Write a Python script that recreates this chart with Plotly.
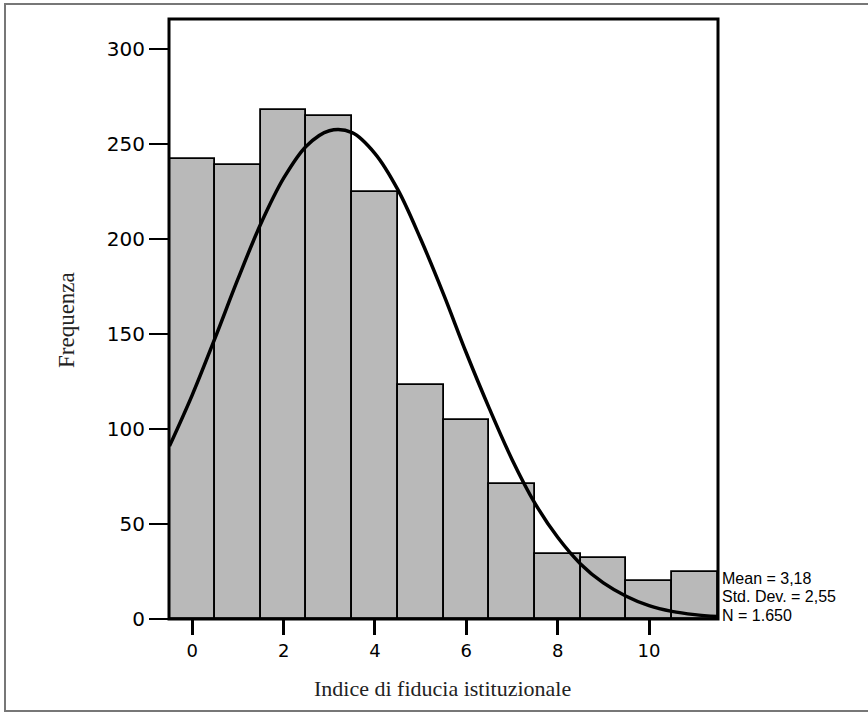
import plotly.graph_objects as go

# Histogram data
bins = [0, 1, 2, 3, 4, 5, 6, 7, 8, 9, 10, 11]
freq = [242, 239, 268, 265, 225, 123, 105, 71, 34, 32, 20, 25]

# Fitted normal curve
curve_x = [-0.5, 0, 0.5, 1, 1.5, 2, 2.5, 3, 3.5, 4, 4.5, 5, 5.5, 6, 6.5,
           7, 7.5, 8, 8.5, 9, 9.5, 10, 10.5, 11, 11.5]
curve_y = [91, 118, 148, 179, 208, 232, 249, 257, 256, 245, 226, 200, 171, 140, 111,
           84, 61, 43, 29, 19, 12, 7, 4, 2.3, 1.3]

x_ticks = [0, 2, 4, 6, 8, 10]
y_ticks = [0, 50, 100, 150, 200, 250, 300]

stats_lines = ["Mean = 3,18", "Std. Dev. = 2,55", "N = 1.650"]
x_title = "Indice di fiducia istituzionale"
y_title = "Frequenza"

W, H = 868, 713
L, R, T, B = 169, 150, 19, 94
pw, ph = W - L - R, H - T - B

def px_to_paper_x(px):
    return (px - L) / pw

def px_to_paper_y(py):
    return (H - B - py) / ph

fig = go.Figure()
fig.add_trace(go.Bar(
    x=bins, y=freq, width=1,
    marker=dict(color="#b9b9b9", line=dict(color="black", width=1.8)),
    showlegend=False, hoverinfo="skip",
))
fig.add_trace(go.Scatter(
    x=curve_x, y=curve_y, mode="lines",
    line=dict(color="black", width=3.5, shape="spline", smoothing=1.0),
    showlegend=False, hoverinfo="skip",
))

fig.update_layout(
    width=W, height=H,
    margin=dict(l=L, r=R, t=T, b=B, pad=0),
    paper_bgcolor="white", plot_bgcolor="white",
    bargap=0,
    xaxis=dict(range=[-0.51, 11.51], tickvals=x_ticks, ticktext=[str(v) for v in x_ticks],
               ticks="outside", ticklen=15, tickwidth=2.5, tickcolor="black",
               showgrid=False, zeroline=False, showline=False,
               tickfont=dict(family="DejaVu Sans, Arial, sans-serif", size=18, color="black")),
    yaxis=dict(range=[0, 315.8], tickvals=y_ticks, ticktext=[str(v) for v in y_ticks],
               ticks="outside", ticklen=19, tickwidth=2, tickcolor="black",
               showgrid=False, zeroline=False, showline=False,
               tickfont=dict(family="DejaVu Sans, Arial, sans-serif", size=20, color="black")),
)

# plot frame
fig.add_shape(type="rect", xref="paper", yref="paper", x0=0, x1=1, y0=0, y1=1,
              line=dict(color="black", width=3), layer="above")
# outer frame of the figure
fig.add_shape(type="rect", xref="paper", yref="paper",
              x0=px_to_paper_x(5), x1=px_to_paper_x(872),
              y0=px_to_paper_y(711), y1=px_to_paper_y(4),
              line=dict(color="#777777", width=2), layer="above")

# axis titles
fig.add_annotation(text=x_title, xref="paper", yref="paper",
                   x=px_to_paper_x(442), y=px_to_paper_y(688),
                   xanchor="center", yanchor="middle", showarrow=False,
                   font=dict(family="Liberation Serif, Times New Roman, serif", size=22, color="#222"))
fig.add_annotation(text=y_title, xref="paper", yref="paper",
                   x=px_to_paper_x(66), y=px_to_paper_y(320), textangle=-90,
                   xanchor="center", yanchor="middle", showarrow=False,
                   font=dict(family="Liberation Serif, Times New Roman, serif", size=23, color="#222"))

# stats text
for i, s in enumerate(stats_lines):
    fig.add_annotation(text=s, xref="paper", yref="paper",
                       x=px_to_paper_x(720), y=px_to_paper_y(578 + 18.5 * i),
                       xanchor="left", yanchor="middle", showarrow=False,
                       font=dict(family="Liberation Sans, Arial, sans-serif", size=16, color="black"))

fig.write_html("out.html")
